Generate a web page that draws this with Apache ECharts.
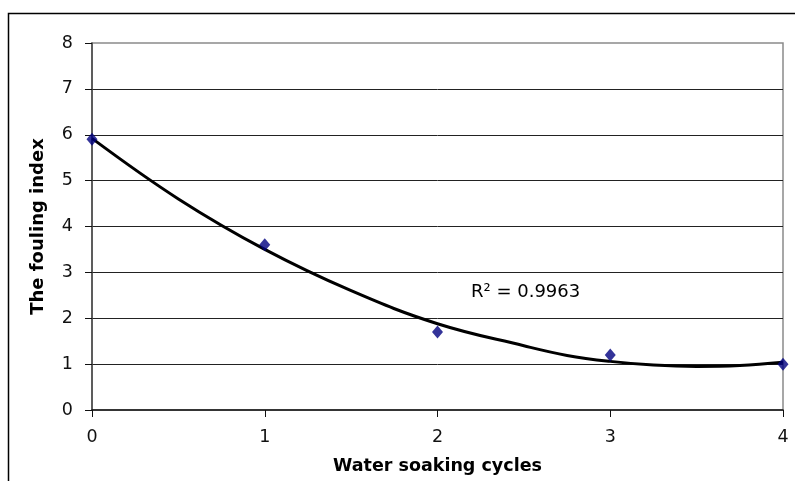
<!DOCTYPE html>
<html>
<head>
<meta charset="utf-8">
<script src="https://cdn.jsdelivr.net/npm/echarts@6/dist/echarts.min.js"></script>
<style>
html,body{margin:0;padding:0;background:#fff;}
#chart{width:795px;height:481px;}
</style>
</head>
<body>
<div id="chart"></div>
<script>
// Measured data
const cycles = [0, 1, 2, 3, 4];
const foulingIndex = [5.9, 3.6, 1.7, 1.2, 1.0];
// Trend line (polynomial)
const trendX = [0, 0.5, 1, 1.5, 2, 2.5, 2.75, 3, 3.25, 3.5, 3.75, 4];
const trendY = [5.92, 4.6, 3.5, 2.6, 1.88, 1.4, 1.19, 1.06, 0.98, 0.95, 0.97, 1.04];
const r2Label = 'R² = 0.9963';
const r2Pos = [2.51, 2.57];
const xTicks = [0, 1, 2, 3, 4];
const yTicks = [0, 1, 2, 3, 4, 5, 6, 7, 8];

const chart = echarts.init(document.getElementById('chart'), null, {renderer: 'canvas'});
const font = 'DejaVu Sans, Arial, sans-serif';
chart.setOption({
  animation: false,
  backgroundColor: '#fff',
  graphic: [{
    type: 'rect',
    shape: {x: 8.5, y: 13.5, width: 900, height: 600},
    style: {fill: 'none', stroke: '#000', lineWidth: 1.5},
    silent: true
  }],
  grid: {
    left: 92, right: 12, top: 43, bottom: 71,
    outerBoundsMode: 'none', containLabel: false,
    show: true, borderColor: '#8a8a8a', borderWidth: 1.5, backgroundColor: '#fff'
  },
  xAxis: {
    type: 'value', min: xTicks[0], max: xTicks[xTicks.length - 1], interval: 1,
    name: 'Water soaking cycles', nameLocation: 'middle', nameGap: 47,
    nameTextStyle: {fontFamily: font, fontSize: 17.5, fontWeight: 'bold', color: '#000'},
    axisLine: {show: true, onZero: false, lineStyle: {color: '#111', width: 1.5}},
    axisTick: {show: true, length: 7, lineStyle: {color: '#111', width: 1}},
    axisLabel: {fontFamily: font, fontSize: 17.5, color: '#111', margin: 18},
    splitLine: {show: false}
  },
  yAxis: {
    type: 'value', min: yTicks[0], max: yTicks[yTicks.length - 1], interval: 1,
    name: 'The fouling index', nameLocation: 'middle', nameGap: 45, nameRotate: 90,
    nameTextStyle: {fontFamily: font, fontSize: 18, fontWeight: 'bold', color: '#000'},
    axisLine: {show: true, lineStyle: {color: '#444', width: 1.5}},
    axisTick: {show: true, length: 7, lineStyle: {color: '#111', width: 1}},
    axisLabel: {fontFamily: font, fontSize: 17.5, color: '#111', margin: 19},
    splitLine: {show: true, showMinLine: false, showMaxLine: false, lineStyle: {color: '#222', width: 1}}
  },
  series: [{
    type: 'line',
    data: trendX.map((x, i) => [x, trendY[i]]),
    smooth: 0.4,
    showSymbol: false,
    symbol: 'none',
    lineStyle: {color: '#000', width: 3},
    z: 2,
    markPoint: {
      symbol: 'circle', symbolSize: 0,
      data: [{coord: r2Pos, value: r2Label}],
      label: {show: true, position: 'inside', formatter: r2Label, fontFamily: font, fontSize: 18, color: '#000'}
    }
  }, {
    type: 'scatter',
    data: cycles.map((x, i) => [x, foulingIndex[i]]),
    symbol: 'diamond',
    symbolSize: [11, 13],
    itemStyle: {color: '#000080'},
    z: 3
  }]
});
</script>
</body>
</html>
